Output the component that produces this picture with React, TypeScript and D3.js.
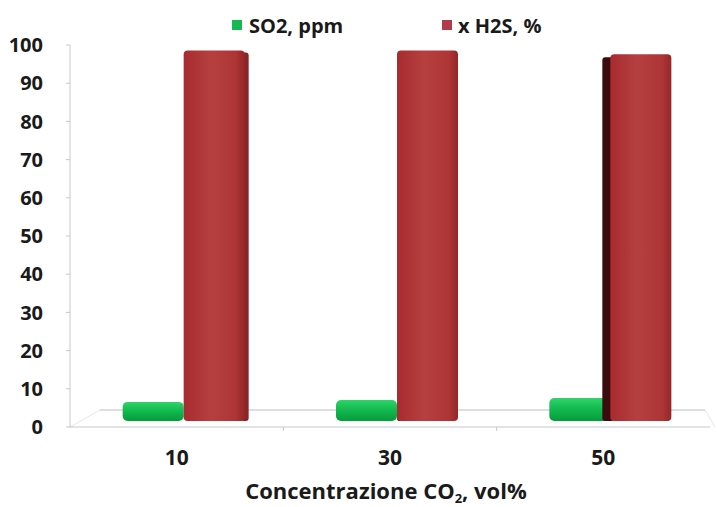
import React from 'react';
import * as d3 from 'd3';

const categories = ['10', '30', '50'];
const so2Values = [5, 5.5, 6];
const h2sValues = [97, 97, 96];
const yTicks = [0, 10, 20, 30, 40, 50, 60, 70, 80, 90, 100];
const seriesNames = ['SO2, ppm', 'x H2S, %'];

const W = 717;
const H = 507;
const margin = { top: 45, right: 7, bottom: 80, left: 70 };
const FONT = "'Open Sans', 'DejaVu Sans', sans-serif";

const App: React.FC = () => {
  const x = d3.scaleBand<string>()
    .domain(categories)
    .range([margin.left, W - margin.right])
    .padding(0);

  const y = d3.scaleLinear()
    .domain([0, 100])
    .range([H - margin.bottom, margin.top]);

  const depth = 6; // 3d lift of the bars above the floor
  const barW = 61;

  const centerX = (margin.left + W - margin.right) / 2;

  return (
    <svg width={W} height={H} style={{ display: 'block', position: 'absolute', left: 0, top: 0, background: '#fff' }}>
      <defs>
        <linearGradient id="gGreen" x1="0" x2="0" y1="0" y2="1">
          <stop offset="0" stopColor="#2fd36a" />
          <stop offset="0.5" stopColor="#10b84e" />
          <stop offset="1" stopColor="#089a3c" />
        </linearGradient>
        <linearGradient id="gRed" x1="0" x2="1" y1="0" y2="0">
          <stop offset="0" stopColor="#a72b2f" />
          <stop offset="0.45" stopColor="#b6403f" />
          <stop offset="0.85" stopColor="#ad3535" />
          <stop offset="1" stopColor="#962626" />
        </linearGradient>
      </defs>

      {/* floor / back wall lines */}
      <line x1={margin.left + 30} x2={W - 12} y1={y(0) - 17} y2={y(0) - 17} stroke="#bdbdbd" strokeWidth={1} />
      <line x1={margin.left} x2={margin.left + 30} y1={y(0)} y2={y(0) - 17} stroke="#e6e6e6" strokeWidth={1} />
      <line x1={W - 12} x2={W - 2} y1={y(0) - 17} y2={y(0)} stroke="#e6e6e6" strokeWidth={1} />

      {/* axes */}
      <line x1={margin.left} x2={margin.left} y1={y(100)} y2={y(0)} stroke="#c8c8c8" strokeWidth={1} />
      <line x1={margin.left} x2={W - margin.right} y1={y(0)} y2={y(0)} stroke="#c8c8c8" strokeWidth={1} />
      {yTicks.map(t => (
        <g key={t}>
          <line x1={margin.left - 4} x2={margin.left} y1={y(t)} y2={y(t)} stroke="#c8c8c8" />
          <text x={43} y={y(t)} dy="0.36em" textAnchor="end" fontFamily={FONT} fontWeight={700} fontSize={20} fill="#1a1a1a">{t}</text>
        </g>
      ))}
      {categories.slice(1).map(c => (
        <line key={c} x1={x(c)!} x2={x(c)!} y1={y(0)} y2={y(0) + 4} stroke="#c8c8c8" />
      ))}
      {categories.map(c => (
        <text key={c} x={x(c)! + x.bandwidth() / 2} y={465} textAnchor="middle" fontFamily={FONT} fontWeight={700} fontSize={21} fill="#1a1a1a">{c}</text>
      ))}

      {/* bars */}
      {categories.map((c, i) => {
        const cx = x(c)! + x.bandwidth() / 2;
        const gx = cx - 54;
        const rx = cx + 7;
        const base = y(0) - depth;
        const gTop = y(so2Values[i]) - depth;
        const rTop = y(h2sValues[i]) - depth;
        const side = (cx - centerX) / (x.bandwidth()) * 8;
        return (
          <g key={c}>
            <rect x={gx} y={gTop} width={barW} height={base - gTop} rx={5} fill="url(#gGreen)" />
            {side > 0 && (
              <rect x={rx - side} y={rTop + 3} width={side + 4} height={base - rTop - 3} rx={3} fill="#3c0b0d" />
            )}
            {side < 0 && (
              <rect x={rx + barW - 4} y={rTop + 2} width={-side / 2 + 4} height={base - rTop - 2} rx={3} fill="#8a2426" />
            )}
            <rect x={rx} y={rTop} width={barW} height={base - rTop} rx={4} fill="url(#gRed)" />
          </g>
        );
      })}

      {/* legend */}
      <rect x={232} y={20} width={10} height={10} fill="#16b850" />
      <text x={249} y={33} fontFamily={FONT} fontWeight={700} fontSize={20} fill="#1a1a1a">{seriesNames[0]}</text>
      <rect x={442} y={20} width={10} height={10} fill="#b33a4a" />
      <text x={458} y={33} fontFamily={FONT} fontWeight={700} fontSize={20} fill="#1a1a1a">{seriesNames[1]}</text>

      {/* x axis title */}
      <text x={386} y={499} textAnchor="middle" fontFamily={FONT} fontWeight={700} fontSize={22} fill="#1a1a1a">
        Concentrazione CO<tspan fontSize={13} dy={4}>2</tspan><tspan dy={-4}>, vol%</tspan>
      </text>
    </svg>
  );
};

export default App;
